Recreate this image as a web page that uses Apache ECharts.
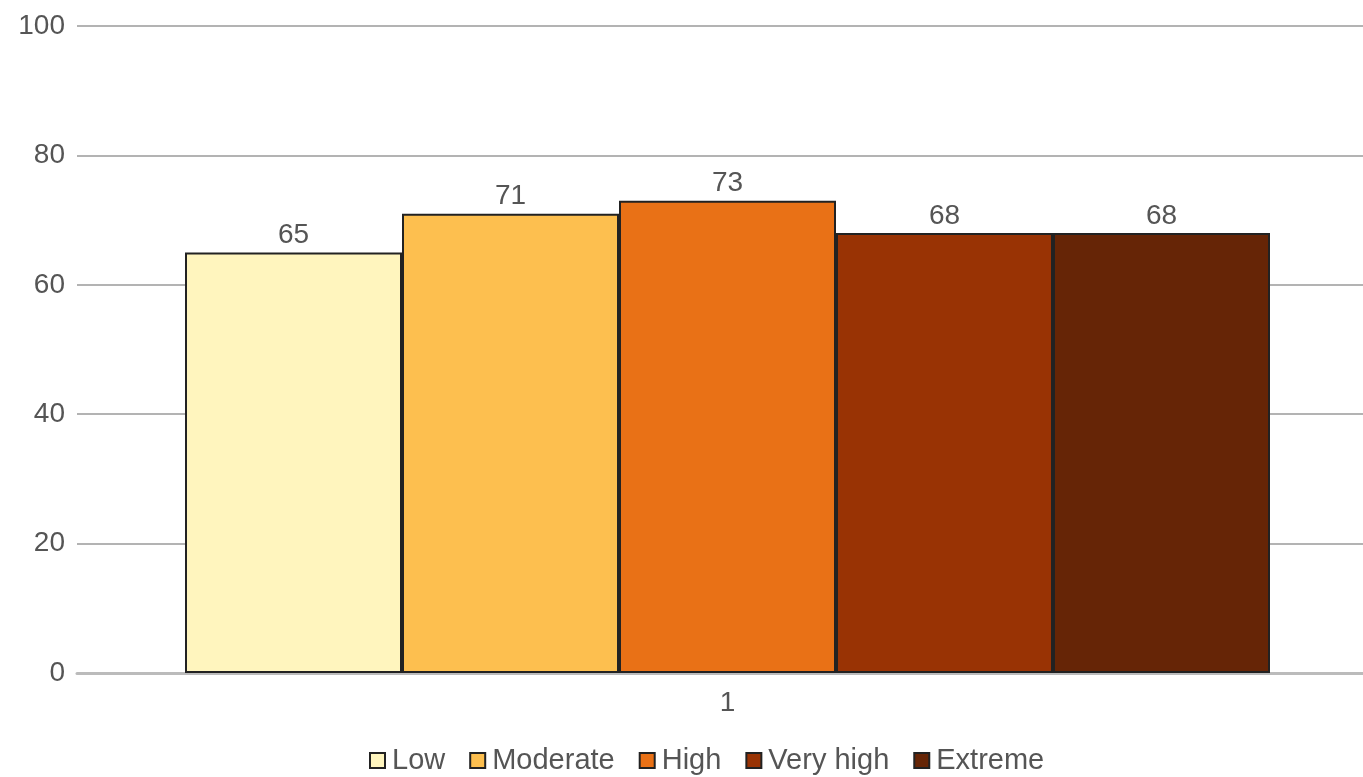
<!DOCTYPE html>
<html>
<head>
<meta charset="utf-8">
<script src="https://cdn.jsdelivr.net/npm/echarts@6/dist/echarts.min.js"></script>
<style>
html,body{margin:0;padding:0;background:#fff;}
#chart{width:1363px;height:777px;}
</style>
</head>
<body>
<div id="chart"></div>
<script>
const categories = ['1'];
const seriesNames = ['Low', 'Moderate', 'High', 'Very high', 'Extreme'];
const seriesValues = [[65], [71], [73], [68], [68]];
const seriesColors = ['#FFF5BE', '#FDBF4F', '#E97116', '#993304', '#662506'];
const yTicks = [0, 20, 40, 60, 80, 100];

const chart = echarts.init(document.getElementById('chart'));
const font = 'Liberation Sans, Arial, sans-serif';
chart.setOption({
  animation: false,
  textStyle: { fontFamily: font },
  grid: { left: 77, width: 1301, top: 26, bottom: 104, containLabel: false, outerBoundsMode: 'none' },
  legend: {
    bottom: -3,
    left: 364,
    itemWidth: 15,
    itemHeight: 15,
    itemGap: 24,
    icon: 'rect',
    textStyle: { fontSize: 29, color: '#555', fontFamily: font, padding: [0, 0, 0, 2] },
    data: seriesNames
  },
  xAxis: {
    type: 'category',
    data: categories,
    axisLine: { show: true, lineStyle: { color: '#bbb', width: 3 } },
    axisTick: { show: false },
    axisLabel: { fontSize: 28, color: '#555', margin: 16 }
  },
  yAxis: {
    type: 'value',
    min: yTicks[0],
    max: yTicks[yTicks.length - 1],
    interval: 20,
    axisLine: { show: false },
    axisTick: { show: false },
    axisLabel: { fontSize: 28, color: '#555', margin: 12 },
    splitLine: { lineStyle: { color: '#b3b3b3', width: 2 } }
  },
  series: seriesNames.map((name, i) => ({
    name,
    type: 'bar',
    data: seriesValues[i],
    barWidth: 217,
    barGap: '0%',
    itemStyle: { color: seriesColors[i], borderColor: '#222', borderWidth: 2 },
    label: { show: true, position: 'top', distance: 3, fontSize: 28, color: '#555', fontFamily: font }
  }))
});
</script>
</body>
</html>
